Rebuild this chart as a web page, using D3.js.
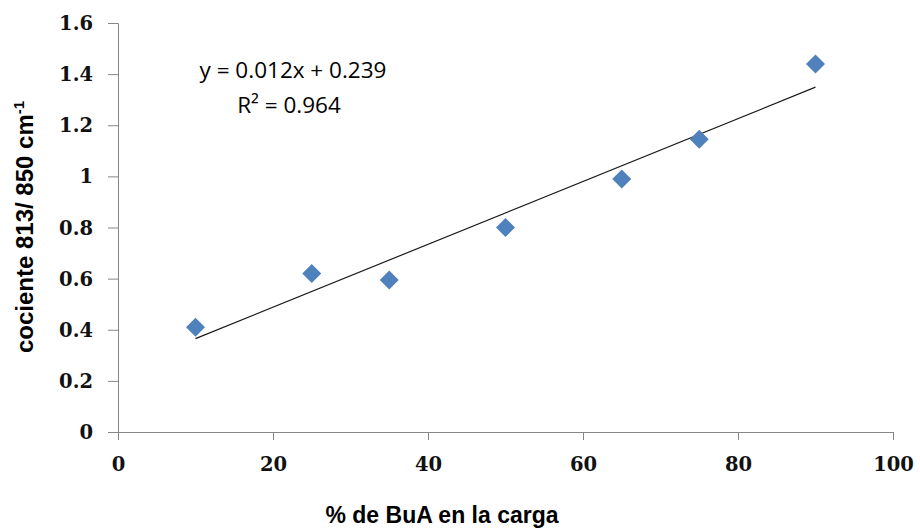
<!DOCTYPE html>
<html>
<head>
<meta charset="utf-8">
<script src="https://cdn.jsdelivr.net/npm/d3@7"></script>
<style>
  body { margin: 0; background: #fff; }
  .axis path, .axis line { stroke: #868686; }
  .axis text { font-family: "DejaVu Serif", serif; font-weight: bold; font-size: 19.5px; fill: #111; }
</style>
</head>
<body>
<div class="js-chart"></div>
<script>
'use strict';

// data
const bua = [10, 25, 35, 50, 65, 75, 90];
const ratio = [0.41, 0.62, 0.595, 0.80, 0.99, 1.145, 1.44];
const xTicks = [0, 20, 40, 60, 80, 100];
const yTicks = [0, 0.2, 0.4, 0.6, 0.8, 1, 1.2, 1.4, 1.6];
const equation = ['y = 0.012x + 0.239', 'R\u00B2 = 0.964'];

const width = 920, height = 529;
const margin = { top: 23, right: 27, bottom: 97, left: 118 };
const graphWidth = width - margin.left - margin.right;
const graphHeight = height - margin.top - margin.bottom;

const svg = d3.select('.js-chart')
    .append('svg')
    .attr('width', width)
    .attr('height', height);

const graph = svg.append('g')
    .attr('transform', `translate(${margin.left}, ${margin.top})`);

// scales
const x = d3.scaleLinear().domain([0, 100]).range([0, graphWidth]);
const y = d3.scaleLinear().domain([0, 1.6]).range([graphHeight, 0]);

// axes
const xAxis = d3.axisBottom(x)
    .tickValues(xTicks)
    .tickSize(8)
    .tickSizeOuter(8)
    .tickPadding(25)
    .tickFormat(d3.format('d'));

const yAxis = d3.axisLeft(y)
    .tickValues(yTicks)
    .tickSize(10)
    .tickSizeOuter(10)
    .tickPadding(15)
    .tickFormat(d => String(d));

graph.append('g')
    .attr('class', 'axis x-axis')
    .attr('transform', `translate(0, ${graphHeight})`)
    .call(xAxis);

graph.append('g')
    .attr('class', 'axis y-axis')
    .call(yAxis);

graph.selectAll('.axis text').attr('dy', null);
graph.selectAll('.x-axis text').attr('dominant-baseline', 'middle');
graph.selectAll('.y-axis text').attr('dominant-baseline', 'central');

// least squares trend line
const mx = d3.mean(bua), my = d3.mean(ratio);
const slope = d3.sum(bua, (v, i) => (v - mx) * (ratio[i] - my)) / d3.sum(bua, v => (v - mx) ** 2);
const intercept = my - slope * mx;
const ends = d3.extent(bua);

graph.append('line')
    .attr('x1', x(ends[0]))
    .attr('y1', y(slope * ends[0] + intercept))
    .attr('x2', x(ends[1]))
    .attr('y2', y(slope * ends[1] + intercept))
    .attr('stroke', '#1a1a1a')
    .attr('stroke-width', 1.2);

// diamond markers
const r = 9.5;
graph.selectAll('path.pt')
    .data(bua)
    .enter()
    .append('path')
    .attr('class', 'pt')
    .attr('d', `M0,${-r}L${r},0L0,${r}L${-r},0Z`)
    .attr('transform', (d, i) => `translate(${x(d)}, ${y(ratio[i])})`)
    .attr('fill', '#4F81BD');

// equation label
svg.append('text')
    .attr('x', 293)
    .attr('y', 78)
    .attr('text-anchor', 'middle')
    .style('font-family', '"Open Sans", sans-serif')
    .style('font-size', '22.5px')
    .text(equation[0]);

svg.append('text')
    .attr('x', 289)
    .attr('y', 113)
    .attr('text-anchor', 'middle')
    .style('font-family', '"Open Sans", sans-serif')
    .style('font-size', '22.5px')
    .text(equation[1]);

// axis titles
svg.append('text')
    .attr('x', 442)
    .attr('y', 523)
    .attr('text-anchor', 'middle')
    .style('font-family', '"Liberation Sans", Arial, sans-serif')
    .style('font-weight', 'bold')
    .style('font-size', '23px')
    .text('% de BuA en la carga');

const yTitle = svg.append('text')
    .attr('transform', 'translate(33, 227) rotate(-90)')
    .attr('text-anchor', 'middle')
    .style('font-family', '"Liberation Sans", Arial, sans-serif')
    .style('font-weight', 'bold')
    .style('font-size', '24px');
yTitle.append('tspan').text('cociente 813/ 850 cm');
yTitle.append('tspan').attr('dy', -9).style('font-size', '15px').text('-1');
</script>
</body>
</html>
